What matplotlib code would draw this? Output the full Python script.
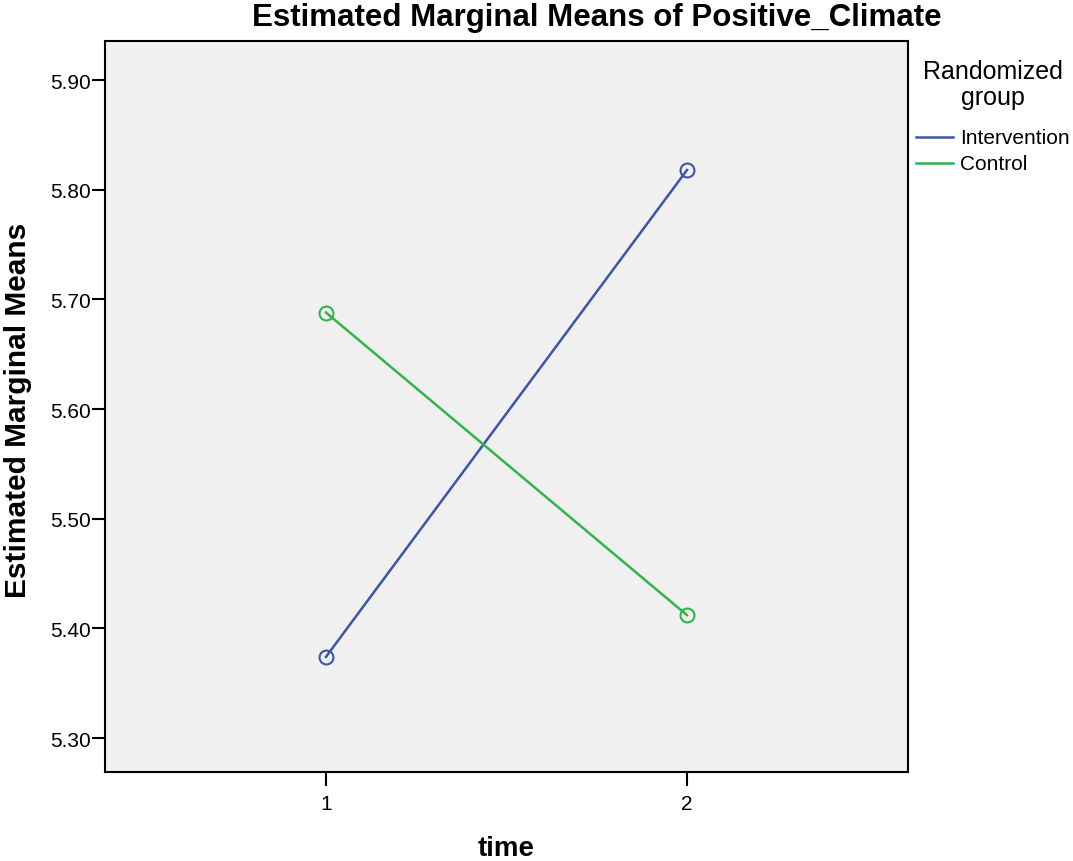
import matplotlib
matplotlib.use('Agg')
import matplotlib.pyplot as plt

plt.rcParams['font.family'] = ['Liberation Sans', 'DejaVu Sans']

# data
times = [1, 2]
groups = ['Intervention', 'Control']
intervention = [5.374, 5.818]
control = [5.688, 5.412]
colors = ['#3b55a8', '#2fb548']
yticks = [5.30, 5.40, 5.50, 5.60, 5.70, 5.80, 5.90]

W, H = 1073, 862
fig = plt.figure(figsize=(W / 100, H / 100), dpi=100)
ax = fig.add_axes([105/W, 89/H, 803/W, 731/H])
ax.set_facecolor('#f0f0f0')

for vals, c in zip([intervention, control], colors):
    ax.plot(times, vals, color=c, lw=1.8, marker='o', markersize=10,
            markerfacecolor='none', markeredgecolor=c, markeredgewidth=1.5)

ax.set_xlim(0.388, 2.612)
ax.set_ylim(5.269, 5.9356)
ax.set_xticks(times)
ax.set_xticklabels([str(t) for t in times])
ax.set_yticks(yticks)
ax.set_yticklabels(['%.2f' % v for v in yticks])
ax.tick_params(axis='y', direction='out', length=9.5, width=1.5, labelsize=15, pad=1)
ax.tick_params(axis='x', direction='out', length=10, width=1.5, labelsize=15, pad=6)
for s in ax.spines.values():
    s.set_linewidth(1.5)

fig.text(18/W, 1 - 410/H, 'Estimated Marginal Means', rotation=90,
         ha='center', va='center', fontsize=21.5, fontweight='bold')
fig.text(506/W, 1 - 849/H, 'time', ha='center', va='center',
         fontsize=20, fontweight='bold')
fig.text(597/W, 1 - 18/H, 'Estimated Marginal Means of Positive_Climate',
         ha='center', va='center', fontsize=22.5, fontweight='bold')

# legend drawn by hand, SPSS style
fig.text(993/W, 1 - 72/H, 'Randomized', ha='center', va='center', fontsize=18)
fig.text(993/W, 1 - 98/H, 'group', ha='center', va='center', fontsize=18)
for i, (g, c) in enumerate(zip(groups, colors)):
    y = 1 - (138 + 26 * i) / H
    fig.add_artist(plt.Line2D([916/W, 953/W], [y, y], color=c, lw=1.8,
                              transform=fig.transFigure))
    fig.text(960/W, y, g, ha='left', va='center', fontsize=15)

fig.savefig('out.png', dpi=100)
